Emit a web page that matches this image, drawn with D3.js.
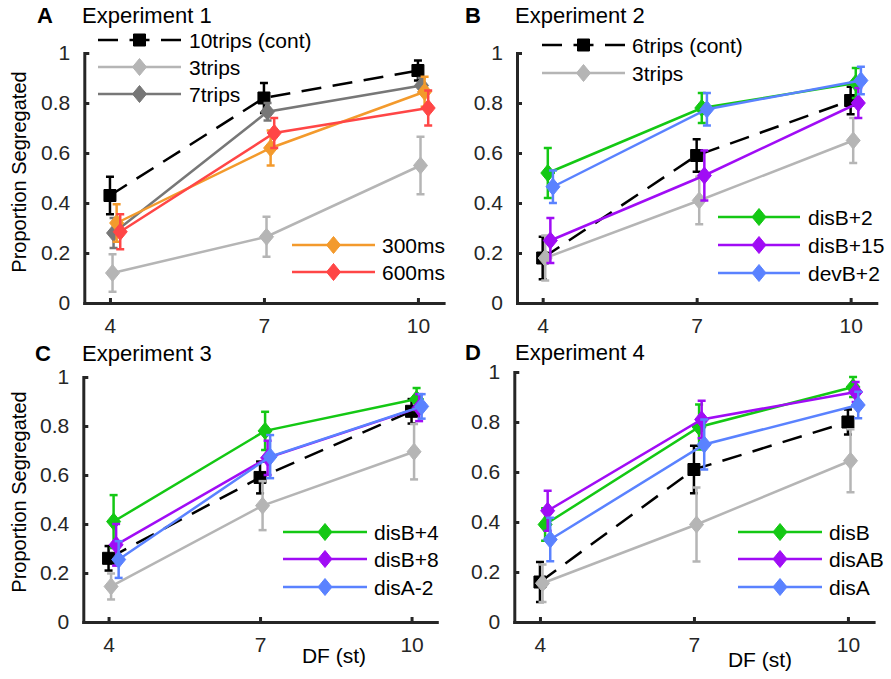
<!DOCTYPE html>
<html>
<head>
<meta charset="utf-8">
<script src="https://cdnjs.cloudflare.com/ajax/libs/d3/7.8.5/d3.min.js"></script>
<style>
  body { margin: 0; background: #fff; }
  svg { display: block; }
  text { font-family: "Liberation Sans", Arial, sans-serif; }
</style>
</head>
<body>
<script>
const w = 891;
const h = 679;

const df = [4, 7, 10];
const xTicks = [4, 7, 10];
const xTickLabels = ["4", "7", "10"];
const yTicks = [0, 0.2, 0.4, 0.6, 0.8, 1];
const yTickLabels = ["0", "0.2", "0.4", "0.6", "0.8", "1"];

// Experiment 1
const exp1Labels = ["10trips (cont)", "3trips", "7trips", "300ms", "600ms"];
const exp1Cont = [0.43, 0.82, 0.93];
const exp1ContErr = [0.075, 0.06, 0.04];
const exp1Trips3 = [0.12, 0.265, 0.55];
const exp1Trips3Err = [0.075, 0.08, 0.115];
const exp1Trips7 = [0.28, 0.765, 0.87];
const exp1Trips7Err = [0.06, 0.035, 0.03];
const exp1Ms300 = [0.32, 0.62, 0.845];
const exp1Ms300Err = [0.075, 0.07, 0.06];
const exp1Ms600 = [0.285, 0.68, 0.78];
const exp1Ms600Err = [0.07, 0.06, 0.07];

// Experiment 2
const exp2Labels = ["6trips (cont)", "3trips", "disB+2", "disB+15", "devB+2"];
const exp2Cont = [0.18, 0.59, 0.81];
const exp2ContErr = [0.085, 0.065, 0.055];
const exp2Trips3 = [0.18, 0.41, 0.65];
const exp2Trips3Err = [0.09, 0.095, 0.09];
const exp2DisB2 = [0.52, 0.78, 0.88];
const exp2DisB2Err = [0.1, 0.06, 0.06];
const exp2DisB15 = [0.25, 0.51, 0.8];
const exp2DisB15Err = [0.09, 0.1, 0.06];
const exp2DevB2 = [0.465, 0.775, 0.89];
const exp2DevB2Err = [0.065, 0.065, 0.055];

// Experiment 3
const exp3Labels = ["cont", "3trips", "disB+4", "disB+8", "disA-2"];
const exp3Cont = [0.26, 0.59, 0.86];
const exp3ContErr = [0.05, 0.065, 0.05];
const exp3Trips3 = [0.145, 0.475, 0.695];
const exp3Trips3Err = [0.053, 0.1, 0.113];
const exp3DisB4 = [0.41, 0.78, 0.91];
const exp3DisB4Err = [0.108, 0.078, 0.045];
const exp3DisB8 = [0.315, 0.67, 0.875];
const exp3DisB8Err = [0.085, 0.07, 0.055];
const exp3DisA2 = [0.255, 0.675, 0.88];
const exp3DisA2Err = [0.075, 0.088, 0.05];

// Experiment 4
const exp4Labels = ["cont", "3trips", "disB", "disAB", "disA"];
const exp4Cont = [0.16, 0.61, 0.8];
const exp4ContErr = [0.08, 0.095, 0.05];
const exp4Trips3 = [0.155, 0.39, 0.645];
const exp4Trips3Err = [0.075, 0.148, 0.126];
const exp4DisB = [0.39, 0.78, 0.94];
const exp4DisBErr = [0.065, 0.09, 0.04];
const exp4DisAB = [0.445, 0.81, 0.92];
const exp4DisABErr = [0.08, 0.075, 0.04];
const exp4DisA = [0.33, 0.71, 0.868];
const exp4DisAErr = [0.087, 0.1, 0.053];

// line styles (colour, dash, marker, small x shift so the points don't overlap)
const styles = {
  cont: { color: "#000000", dash: "20,11.5", marker: "square", dx: 0 },
  trips3: { color: "#b5b5b5", dash: null, marker: "diamond", dx: 0.05 },
  trips7: { color: "#777777", dash: null, marker: "diamond", dx: 0.07 },
  ms300: { color: "#f39a2c", dash: null, marker: "diamond", dx: 0.13 },
  ms600: { color: "#ff4646", dash: null, marker: "diamond", dx: 0.2 },
  green: { color: "#14c814", dash: null, marker: "diamond", dx: 0.1 },
  purple: { color: "#a00cf5", dash: null, marker: "diamond", dx: 0.15 },
  blue: { color: "#5a82ff", dash: null, marker: "diamond", dx: 0.2 },
};

function series(label, values, errors, style) {
  return { label: label, values: values, errors: errors, style: styles[style] };
}

const panels = [
  {
    letter: "A", title: "Experiment 1",
    xRange: [84.3, 443.6], yRange: [303, 53],
    letterX: 37, titleX: 82, titleY: 23,
    yLabel: [26, 172], xLabel: null,
    series: [
      series(exp1Labels[0], exp1Cont, exp1ContErr, "cont"),
      series(exp1Labels[1], exp1Trips3, exp1Trips3Err, "trips3"),
      series(exp1Labels[2], exp1Trips7, exp1Trips7Err, "trips7"),
      series(exp1Labels[3], exp1Ms300, exp1Ms300Err, "ms300"),
      series(exp1Labels[4], exp1Ms600, exp1Ms600Err, "ms600"),
    ],
    legends: [
      { x0: 98, x1: 181, tx: 189, items: [0, 1, 2], rows: [40, 67, 94] },
      { x0: 292, x1: 375, tx: 382, items: [3, 4], rows: [245, 272] },
    ],
  },
  {
    letter: "B", title: "Experiment 2",
    xRange: [517, 876.3], yRange: [303, 53],
    letterX: 465, titleX: 515, titleY: 23,
    yLabel: null, xLabel: null,
    series: [
      series(exp2Labels[0], exp2Cont, exp2ContErr, "cont"),
      series(exp2Labels[1], exp2Trips3, exp2Trips3Err, "trips3"),
      series(exp2Labels[2], exp2DisB2, exp2DisB2Err, "green"),
      series(exp2Labels[3], exp2DisB15, exp2DisB15Err, "purple"),
      series(exp2Labels[4], exp2DevB2, exp2DevB2Err, "blue"),
    ],
    legends: [
      { x0: 542, x1: 625, tx: 632, items: [0, 1], rows: [45, 73] },
      { x0: 718, x1: 800, tx: 808, items: [2, 3, 4], rows: [217, 245, 273] },
    ],
  },
  {
    letter: "C", title: "Experiment 3",
    xRange: [83.3, 436.8], yRange: [622, 377],
    letterX: 35, titleX: 82, titleY: 361,
    yLabel: [26, 492], xLabel: [334, 663],
    series: [
      series(exp3Labels[0], exp3Cont, exp3ContErr, "cont"),
      series(exp3Labels[1], exp3Trips3, exp3Trips3Err, "trips3"),
      series(exp3Labels[2], exp3DisB4, exp3DisB4Err, "green"),
      series(exp3Labels[3], exp3DisB8, exp3DisB8Err, "purple"),
      series(exp3Labels[4], exp3DisA2, exp3DisA2Err, "blue"),
    ],
    legends: [
      { x0: 283, x1: 367, tx: 374, items: [2, 3, 4], rows: [532, 559, 587] },
    ],
  },
  {
    letter: "D", title: "Experiment 4",
    xRange: [514.3, 873.6], yRange: [622, 372],
    letterX: 465, titleX: 515, titleY: 360,
    yLabel: null, xLabel: [760, 667],
    series: [
      series(exp4Labels[0], exp4Cont, exp4ContErr, "cont"),
      series(exp4Labels[1], exp4Trips3, exp4Trips3Err, "trips3"),
      series(exp4Labels[2], exp4DisB, exp4DisBErr, "green"),
      series(exp4Labels[3], exp4DisAB, exp4DisABErr, "purple"),
      series(exp4Labels[4], exp4DisA, exp4DisAErr, "blue"),
    ],
    legends: [
      { x0: 738, x1: 822, tx: 829, items: [2, 3, 4], rows: [532, 559, 587] },
    ],
  },
];

const axisColor = "#262626";
const fontSize = 21;

const svg = d3
  .select("body")
  .append("svg")
  .attr("width", w)
  .attr("height", h);

function markerPath(type) {
  if (type === "square") {
    return "M-6,-6H6V6H-6Z";
  }
  return "M0,-8.5L7,0L0,8.5L-7,0Z";
}

function drawMarker(g, type, color, x, y) {
  g.append("path")
    .attr("d", markerPath(type))
    .attr("transform", "translate(" + x + "," + y + ")")
    .attr("fill", color)
    .attr("stroke", color)
    .attr("stroke-width", 1);
}

function drawPanel(p) {
  const xScale = d3.scaleLinear().domain([3.5, 10.5]).range(p.xRange);
  const yScale = d3.scaleLinear().domain([0, 1]).range(p.yRange);
  const g = svg.append("g");

  // axes
  const xAxis = d3
    .axisBottom(xScale)
    .tickValues(xTicks)
    .tickFormat((d, i) => xTickLabels[i])
    .tickSizeInner(-5)
    .tickSizeOuter(0)
    .tickPadding(15);
  const yAxis = d3
    .axisLeft(yScale)
    .tickValues(yTicks)
    .tickFormat((d, i) => yTickLabels[i])
    .tickSizeInner(-5)
    .tickSizeOuter(0)
    .tickPadding(14);

  const gx = g
    .append("g")
    .attr("transform", "translate(0," + p.yRange[0] + ")")
    .call(xAxis);
  const gy = g
    .append("g")
    .attr("transform", "translate(" + p.xRange[0] + ",0)")
    .call(yAxis);

  [gx, gy].forEach((a) => {
    a.select(".domain")
      .attr("stroke", axisColor)
      .attr("stroke-width", 3)
      .attr("stroke-linecap", "square");
    a.selectAll(".tick line").attr("stroke", axisColor).attr("stroke-width", 3);
    a.selectAll(".tick text")
      .attr("fill", axisColor)
      .attr("font-size", fontSize)
      .attr("font-family", '"Liberation Sans", Arial, sans-serif');
  });

  // series
  p.series.forEach((s) => {
    const pts = df.map((d, i) => ({ x: d + s.style.dx, y: s.values[i], e: s.errors[i] }));
    const sg = g.append("g");
    sg.append("path")
      .datum(pts)
      .attr("fill", "none")
      .attr("stroke", s.style.color)
      .attr("stroke-width", 2.5)
      .attr("stroke-dasharray", s.style.dash)
      .attr(
        "d",
        d3
          .line()
          .x((d) => xScale(d.x))
          .y((d) => yScale(d.y))
      );
    pts.forEach((d) => {
      const cx = xScale(d.x);
      sg.append("line")
        .attr("x1", cx)
        .attr("x2", cx)
        .attr("y1", yScale(d.y - d.e))
        .attr("y2", yScale(d.y + d.e))
        .attr("stroke", s.style.color)
        .attr("stroke-width", 2.5);
      [d.y - d.e, d.y + d.e].forEach((v) => {
        sg.append("line")
          .attr("x1", cx - 4)
          .attr("x2", cx + 4)
          .attr("y1", yScale(v))
          .attr("y2", yScale(v))
          .attr("stroke", s.style.color)
          .attr("stroke-width", 2.5);
      });
      drawMarker(sg, s.style.marker, s.style.color, cx, yScale(d.y));
    });
  });

  // legends
  p.legends.forEach((lg) => {
    lg.items.forEach((idx, k) => {
      const s = p.series[idx];
      const y = lg.rows[k];
      g.append("line")
        .attr("x1", lg.x0)
        .attr("x2", lg.x1)
        .attr("y1", y)
        .attr("y2", y)
        .attr("stroke", s.style.color)
        .attr("stroke-width", 2.5)
        .attr("stroke-dasharray", s.style.dash);
      drawMarker(g, s.style.marker, s.style.color, (lg.x0 + lg.x1) / 2, y);
      g.append("text")
        .attr("x", lg.tx)
        .attr("y", y + 7.5)
        .attr("font-size", fontSize)
        .attr("fill", "#000")
        .text(s.label);
    });
  });

  // titles
  g.append("text")
    .attr("x", p.letterX)
    .attr("y", p.titleY)
    .attr("font-size", 22)
    .attr("font-weight", "bold")
    .text(p.letter);
  g.append("text")
    .attr("x", p.titleX)
    .attr("y", p.titleY)
    .attr("font-size", 22)
    .text(p.title);

  if (p.yLabel) {
    g.append("text")
      .attr("transform", "translate(" + p.yLabel[0] + "," + p.yLabel[1] + ") rotate(-90)")
      .attr("text-anchor", "middle")
      .attr("font-size", 20)
      .text("Proportion Segregated");
  }
  if (p.xLabel) {
    g.append("text")
      .attr("x", p.xLabel[0])
      .attr("y", p.xLabel[1])
      .attr("text-anchor", "middle")
      .attr("font-size", fontSize)
      .text("DF (st)");
  }
}

panels.forEach(drawPanel);
</script>
</body>
</html>
